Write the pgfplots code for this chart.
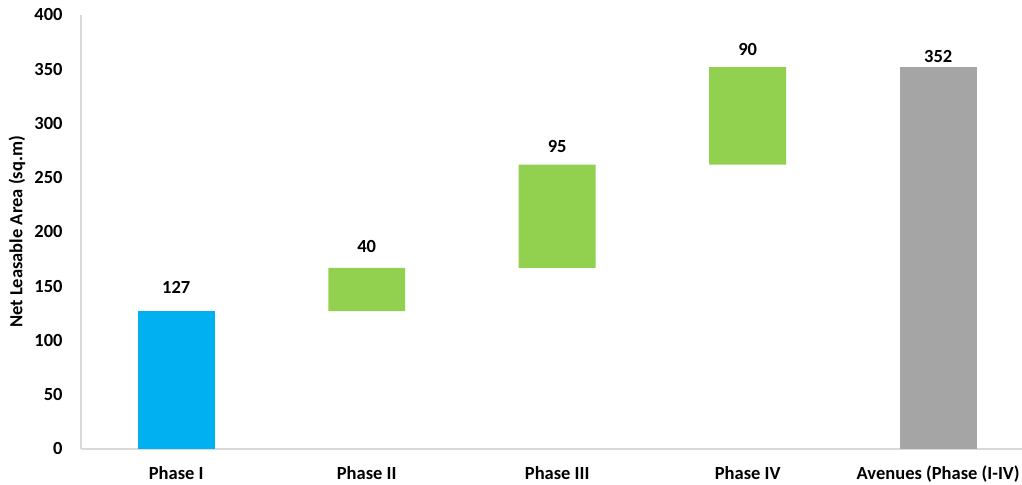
\documentclass[border=0pt]{standalone}
\usepackage{pgfplots}
\pgfplotsset{compat=1.18}
\usepackage{fontspec}
\setmainfont{Carlito}

\definecolor{phaseblue}{HTML}{00B0F0}
\definecolor{phasegreen}{HTML}{92D050}
\definecolor{totalgray}{HTML}{A5A5A5}
\definecolor{axisgray}{HTML}{D9D9D9}

\newcommand{\chartfont}{\fontsize{9.25}{11}\selectfont\bfseries}

\begin{document}
\begin{tikzpicture}
\begin{axis}[
  name=ax,
  scale only axis,
  width=470.5pt, height=217pt,
  xmin=-0.5, xmax=4.44,
  ymin=0, ymax=400,
  ybar stacked,
  bar width=0.404,
  axis x line*=bottom,
  axis y line*=left,
  axis line style={-, draw=axisgray, line width=0.8pt},
  major tick length=0pt,
  tick style={draw=none},
  xtick={0,1,2,3,4},
  xticklabels={Phase I, Phase II, Phase III, Phase IV, Avenues (Phase (I-IV)},
  ytick={0,50,...,400},
  /pgf/number format/assume math mode=true,
  ticklabel style={font=\chartfont},
  xticklabel style={anchor=north, inner sep=0pt, text height=6.5pt, text depth=2pt, yshift=-8.5pt},
  yticklabel style={anchor=east, inner sep=0pt, xshift=-9pt},
  ylabel={Net Leasable Area (sq.m)},
  ylabel style={font=\chartfont, inner sep=0pt, at={(axis description cs:-0.068,0.5)}, anchor=center, rotate=0},
  clip=false,
]
% invisible base that lifts each increment to the running total
\addplot[draw=none, fill=none] coordinates {(0,0) (1,127) (2,167) (3,262) (4,0)};
% starting phase
\addplot[draw=none, fill=phaseblue] coordinates {(0,127) (1,0) (2,0) (3,0) (4,0)};
% increments
\addplot[draw=none, fill=phasegreen] coordinates {(0,0) (1,40) (2,95) (3,90) (4,0)};
% cumulative total
\addplot[draw=none, fill=totalgray] coordinates {(0,0) (1,0) (2,0) (3,0) (4,352)};

% value labels above each bar
\node[font=\chartfont, inner sep=0pt, yshift=12pt] at (axis cs:0,127) {127};
\node[font=\chartfont, inner sep=0pt, yshift=10.5pt] at (axis cs:1,167) {40};
\node[font=\chartfont, inner sep=0pt, yshift=9pt] at (axis cs:2,262) {95};
\node[font=\chartfont, inner sep=0pt, yshift=9pt] at (axis cs:3,352) {90};
\node[font=\chartfont, inner sep=0pt, yshift=5.5pt] at (axis cs:4,352) {352};
\end{axis}
\pgfresetboundingbox
\path[use as bounding box] ([xshift=-40.5pt, yshift=-18pt]ax.south west) rectangle ([yshift=7.5pt]ax.north east);
\end{tikzpicture}
\end{document}
